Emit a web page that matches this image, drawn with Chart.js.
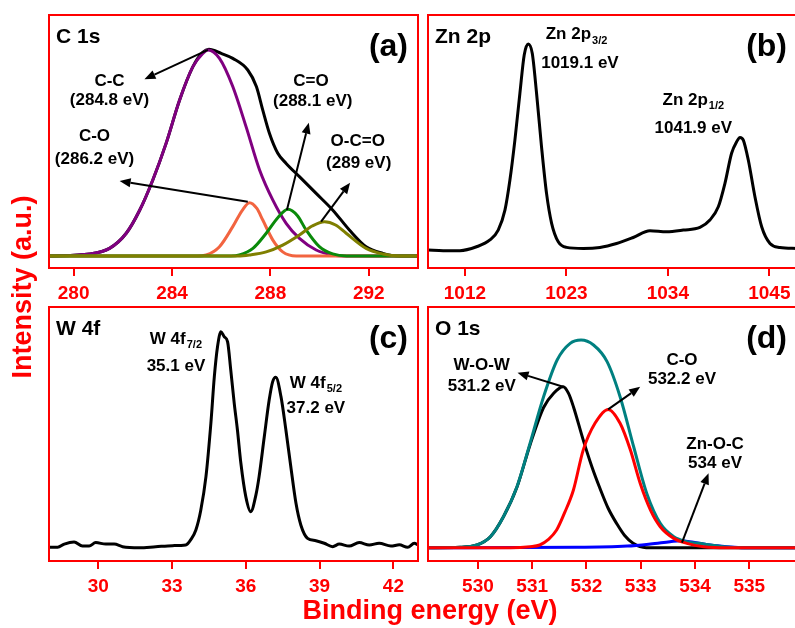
<!DOCTYPE html>
<html>
<head>
<meta charset="utf-8">
<script src="https://cdn.jsdelivr.net/npm/chart.js@4.4.0/dist/chart.umd.min.js"></script>
<style>
  html, body { margin: 0; padding: 0; background: #fff; overflow: hidden; }
  #wrap { position: relative; width: 795px; height: 628px; overflow: hidden; }
  #wrap canvas { position: absolute; left: 0; top: 0; }
</style>
</head>
<body>
<div id="wrap">
  <canvas id="pa" width="810" height="628"></canvas>
  <canvas id="pb" width="810" height="628"></canvas>
  <canvas id="pc" width="810" height="628"></canvas>
  <canvas id="pd" width="810" height="628"></canvas>
</div>
<script>
// ---- (a) C 1s ----
const aTicks = [280, 284, 288, 292];
const aEnvX = [279, 280.65, 281.46, 282.14, 282.68, 283.22, 283.76, 284.31, 284.85, 285.25, 285.5, 286.0, 286.47, 287.08, 287.43, 287.69, 287.96, 288.3, 288.64, 289.18, 289.86, 290.53, 291.21, 291.89, 292.57, 293.24, 294];
const aEnvY = [0, 1, 3.7, 11, 22, 36.8, 54.5, 75.5, 91.6, 98.5, 100, 98, 95.6, 90, 82, 70.6, 59.4, 49.7, 44.8, 38.4, 30.3, 22.3, 12.6, 4.5, 1.3, 0, 0];
const aCCX = [279, 280.65, 281.46, 282.14, 282.68, 283.22, 283.76, 284.31, 284.85, 285.25, 285.46, 285.93, 286.47, 287.01, 287.56, 288.1, 288.64, 289.18, 289.86, 290.53, 291.2, 294];
const aCCY = [0, 1, 3.7, 11, 22, 36.8, 54.5, 75.5, 91.6, 98, 99.7, 95.6, 82, 62.6, 41.6, 27, 15.8, 8.5, 2.9, 0.5, 0, 0];
const aCOX = [279, 285.0, 285.39, 285.93, 286.47, 286.85, 287.15, 287.45, 287.69, 288.1, 288.5, 289.05, 294];
const aCOY = [0, 0, 0.5, 4.5, 14.2, 22, 25.8, 23, 17.4, 7.7, 2, 0, 0];
const aCdOX = [279, 286.4, 286.74, 287.29, 287.83, 288.3, 288.71, 289.1, 289.45, 289.99, 290.53, 291.1, 294];
const aCdOY = [0, 0, 0.5, 3.7, 11, 18.5, 22.6, 19.5, 12.6, 4.5, 1, 0, 0];
const aOCOX = [279, 286.7, 287.15, 287.83, 288.5, 289.18, 289.7, 290.2, 290.65, 291.08, 291.89, 292.57, 293.24, 294];
const aOCOY = [0, 0, 0.5, 2, 5.3, 10.2, 14.5, 16.6, 15, 11, 3.7, 1, 0, 0];

// ---- (b) Zn 2p ----
const bTicks = [1012, 1023, 1034, 1045];
const bX = [1008, 1009.65, 1011.46, 1013.26, 1014.71, 1015.61, 1016.34, 1016.88, 1017.42, 1017.96, 1018.43, 1018.87, 1019.3, 1019.77, 1020.31, 1020.85, 1021.4, 1022.12, 1023.02, 1024.83, 1026.64, 1028.44, 1030.25, 1032.06, 1033.86, 1035.67, 1037.48, 1038.56, 1039.47, 1040.19, 1040.91, 1041.46, 1041.82, 1042.18, 1042.72, 1043.44, 1044.17, 1045.07, 1046.15, 1048];
const bY = [0, -0.3, -0.3, 1.6, 4.9, 9.7, 19.4, 34, 53.4, 76, 94.7, 100, 95.5, 76, 50, 27.5, 13, 4, 1.3, 0.8, 1.3, 3.2, 6.1, 9.4, 8.9, 9.7, 11, 14.6, 21, 32.4, 47, 52.6, 54.7, 53.4, 43.7, 25.9, 11.3, 3.2, 1.3, 0.8];

// ---- (c) W 4f ----
const cTicks = [30, 33, 36, 39, 42];
const cX = [28, 28.35, 28.62, 29.02, 29.36, 29.63, 29.9, 30.31, 30.65, 30.99, 31.67, 32.34, 33.02, 33.56, 33.77, 33.97, 34.17, 34.38, 34.58, 34.72, 34.85, 34.99, 35.12, 35.26, 35.39, 35.53, 35.66, 35.8, 36.0, 36.2, 36.41, 36.54, 36.75, 36.95, 37.09, 37.22, 37.43, 37.63, 37.83, 38.04, 38.24, 38.51, 38.85, 39.19, 39.53, 39.8, 40.2, 40.61, 41.02, 41.42, 41.9, 42.24, 42.58, 42.85, 43];
const cY = [-0.3, -0.3, 1.2, 2.2, 0.3, 0.3, 1.9, 1.2, 1.2, 0, -0.5, 0, 0.5, 0.8, 3.4, 7.8, 17, 32.6, 57.4, 79, 93, 100, 97.7, 95.3, 82, 66.7, 54.3, 38.8, 23.3, 16.3, 24, 32.6, 51, 68.2, 76.7, 78.8, 69.8, 54.3, 37.2, 20.2, 10, 3.9, 2.8, 1.6, 0, 1.2, 0.3, 1.9, 0.8, 1.6, 0.3, 0.9, -0.3, 1.6, 0.8];

// ---- (d) O 1s ----
const dTicks = [530, 531, 532, 533, 534, 535];
const dSumX = [529.08, 529.67, 529.98, 530.23, 530.47, 530.72, 530.96, 531.21, 531.46, 531.7, 531.9, 532.13, 532.38, 532.62, 532.87, 533.11, 533.36, 533.61, 533.85, 534.16, 534.53, 534.9, 535.88];
const dSumY = [0, 0.2, 1.3, 5.3, 14.9, 29.4, 50.2, 72.7, 90.4, 98.4, 100, 97.6, 89.6, 72.7, 48.6, 26.2, 11.7, 5.3, 2.9, 1.8, 0.5, 0, 0];
const dWOWX = [529.08, 529.67, 529.98, 530.23, 530.47, 530.72, 530.96, 531.21, 531.4, 531.57, 531.67, 531.76, 531.94, 532.1, 532.25, 532.4, 532.56, 532.7, 532.86, 533.1, 535.88];
const dWOWY = [0, 0.2, 1.3, 5.3, 14.9, 29.2, 49.5, 67.5, 74.5, 77.5, 74.3, 67.9, 51.9, 39, 28.5, 19, 11.5, 6, 2.1, 0, 0];
const dCOX = [529.08, 530.6, 530.96, 531.14, 531.3, 531.45, 531.6, 531.76, 531.94, 532.16, 532.4, 532.62, 532.81, 532.99, 533.18, 533.36, 533.61, 533.85, 534.16, 534.59, 535.88];
const dCOY = [0, 0, 0.5, 1.3, 4, 8.5, 17, 27.8, 47, 60, 66.6, 59.9, 47, 31, 18.1, 10.1, 4.5, 2.1, 0.5, 0, 0];
const dZnX = [529.08, 531.82, 532.75, 533.18, 533.54, 533.73, 533.97, 534.28, 534.59, 534.9, 535.88];
const dZnY = [0, 0.2, 0.8, 1.8, 2.9, 3.4, 2.6, 1.3, 0.5, 0, 0];

const FONT = '"Liberation Sans", Arial, sans-serif';
const RED = '#ff0000';

function arrow(ctx, x1, y1, x2, y2) {
  const ang = Math.atan2(y2 - y1, x2 - x1), L = 11, W = 4.5;
  const bx = x2 - L * Math.cos(ang), by = y2 - L * Math.sin(ang);
  ctx.beginPath(); ctx.moveTo(x1, y1); ctx.lineTo(bx, by); ctx.stroke();
  ctx.beginPath(); ctx.moveTo(x2, y2);
  ctx.lineTo(bx + W * Math.sin(ang), by - W * Math.cos(ang));
  ctx.lineTo(bx - W * Math.sin(ang), by + W * Math.cos(ang));
  ctx.closePath(); ctx.fill();
}

const deco = {
  id: 'deco',
  afterDatasetsDraw(chart, args, o) {
    const { ctx, chartArea: a, scales: { x, y } } = chart;
    ctx.save();
    ctx.strokeStyle = RED; ctx.lineWidth = 2;
    ctx.strokeRect(a.left, a.top, a.right - a.left, a.bottom - a.top);

    ctx.strokeStyle = '#000'; ctx.fillStyle = '#000'; ctx.lineWidth = 2;
    (o.arrows || []).forEach(([x1, y1, x2, y2]) => {
      arrow(ctx, x.getPixelForValue(x1), y.getPixelForValue(y1), x.getPixelForValue(x2), y.getPixelForValue(y2));
    });

    ctx.textBaseline = 'middle';
    (o.labels || []).forEach(l => {
      const px = x.getPixelForValue(l.x), py = y.getPixelForValue(l.y);
      ctx.font = 'bold 17px ' + FONT;
      const w1 = ctx.measureText(l.t).width;
      let w2 = 0;
      if (l.s) { ctx.font = 'bold 11px ' + FONT; w2 = ctx.measureText(l.s).width + 1; }
      const x0 = px - (w1 + w2) / 2;
      ctx.textAlign = 'left';
      ctx.font = 'bold 17px ' + FONT;
      ctx.fillText(l.t, x0, py);
      if (l.s) { ctx.font = 'bold 11px ' + FONT; ctx.fillText(l.s, x0 + w1 + 1, py + 6); }
    });

    ctx.font = 'bold 21px ' + FONT; ctx.textAlign = 'left';
    ctx.fillText(o.title, a.left + 7, a.top + 22);
    ctx.font = 'bold 32px ' + FONT; ctx.textAlign = 'right';
    ctx.fillText(o.tag, Math.min(a.right, 797) - 10, a.top + 32);

    if (o.axisTitles) {
      ctx.fillStyle = RED;
      ctx.font = 'bold 27px ' + FONT; ctx.textAlign = 'center';
      ctx.fillText('Binding energy (eV)', 430, 612);
      ctx.translate(24, 287); ctx.rotate(-Math.PI / 2);
      ctx.fillText('Intensity (a.u.)', 0, 0);
    }
    ctx.restore();
  }
};

function pts(xs, ys) { return xs.map((v, i) => ({ x: v, y: ys[i] })); }

function panel(id, cfg) {
  const ar = cfg.area;
  new Chart(document.getElementById(id), {
    type: 'line',
    data: {
      datasets: cfg.series.map(s => ({
        data: pts(s[0], s[1]),
        borderColor: s[2],
        borderWidth: 3,
        pointRadius: 0,
        fill: false,
        cubicInterpolationMode: 'monotone'
      }))
    },
    options: {
      responsive: false,
      animation: false,
      devicePixelRatio: 1,
      layout: { padding: { left: ar[0], top: ar[1], right: 810 - ar[2], bottom: 628 - ar[3] - 40 } },
      plugins: { legend: { display: false }, tooltip: { enabled: false }, deco: cfg.deco },
      scales: {
        x: {
          type: 'linear', min: cfg.xr[0], max: cfg.xr[1],
          afterBuildTicks: s => { s.ticks = cfg.ticks.map(v => ({ value: v })); },
          afterFit: s => { s.height = 40; },
          grid: { display: true, drawOnChartArea: false, drawTicks: true, tickLength: 8, color: RED, lineWidth: 2 },
          border: { display: false },
          ticks: {
            color: RED, font: { family: FONT, size: 19, weight: 'bold' }, padding: 6,
            maxRotation: 0, autoSkip: false, callback: v => String(v)
          }
        },
        y: { display: false, min: cfg.yr[0], max: cfg.yr[1] }
      }
    },
    plugins: [deco]
  });
}

panel('pa', {
  area: [49, 15, 418, 268], xr: [279, 294], yr: [-5.8, 116.6], ticks: aTicks,
  series: [
    [aOCOX, aOCOY, '#7f7f00'],
    [aCdOX, aCdOY, '#0a8a0a'],
    [aCOX, aCOY, '#f26440'],
    [aCCX, aCCY, '#800080'],
    [aEnvX, aEnvY, '#000000']
  ],
  deco: {
    title: 'C 1s', tag: '(a)', axisTitles: true,
    labels: [
      { t: 'C-C', x: 281.46, y: 84.4 }, { t: '(284.8 eV)', x: 281.46, y: 75.5 },
      { t: 'C-O', x: 280.85, y: 57.7 }, { t: '(286.2 eV)', x: 280.85, y: 46.8 },
      { t: 'C=O', x: 289.65, y: 84.4 }, { t: '(288.1 eV)', x: 289.72, y: 74.7 },
      { t: 'O-C=O', x: 291.55, y: 55.3 }, { t: '(289 eV)', x: 291.59, y: 44.8 }
    ],
    arrows: [
      [285.46, 99.7, 282.88, 85.5],
      [287.08, 26.3, 281.87, 36.3],
      [288.67, 22.3, 289.56, 64.5],
      [290.06, 16.6, 291.24, 35.5]
    ]
  }
});

panel('pb', {
  area: [428, 15, 797, 268], xr: [1008, 1048], yr: [-8.7, 114.1], ticks: bTicks,
  series: [[bX, bY, '#000000']],
  deco: {
    title: 'Zn 2p', tag: '(b)',
    labels: [
      { t: 'Zn 2p', s: '3/2', x: 1024.1, y: 104.5 }, { t: '1019.1 eV', x: 1024.47, y: 90.6 },
      { t: 'Zn 2p', s: '1/2', x: 1036.76, y: 72.8 }, { t: '1041.9 eV', x: 1036.76, y: 59 }
    ]
  }
});

panel('pc', {
  area: [49, 307, 418, 561], xr: [28, 43], yr: [-6.65, 111.5], ticks: cTicks,
  series: [[cX, cY, '#000000']],
  deco: {
    title: 'W 4f', tag: '(c)',
    labels: [
      { t: 'W 4f', s: '7/2', x: 33.16, y: 96.4 }, { t: '35.1 eV', x: 33.16, y: 83.7 },
      { t: 'W 4f', s: '5/2', x: 38.85, y: 76 }, { t: '37.2 eV', x: 38.85, y: 64.3 }
    ]
  }
});

panel('pd', {
  area: [428, 307, 797, 561], xr: [529.08, 535.88], yr: [-6.4, 115.9], ticks: dTicks,
  series: [
    [dCOX, dCOY, '#ff0000'],
    [dSumX, dSumY, '#008080'],
    [dZnX, dZnY, '#0000ff'],
    [dWOWX, dWOWY, '#000000']
  ],
  deco: {
    title: 'O 1s', tag: '(d)',
    labels: [
      { t: 'W-O-W', x: 530.07, y: 88 }, { t: '531.2 eV', x: 530.07, y: 77.5 },
      { t: 'C-O', x: 533.76, y: 90.4 }, { t: '532.2 eV', x: 533.76, y: 81 },
      { t: 'Zn-O-C', x: 534.37, y: 49.9 }, { t: '534 eV', x: 534.37, y: 40.6 }
    ],
    arrows: [
      [531.57, 77.5, 530.73, 84.3],
      [532.4, 66.6, 532.99, 77.5],
      [533.76, 2.4, 534.25, 35.8]
    ]
  }
});
</script>
</body>
</html>
